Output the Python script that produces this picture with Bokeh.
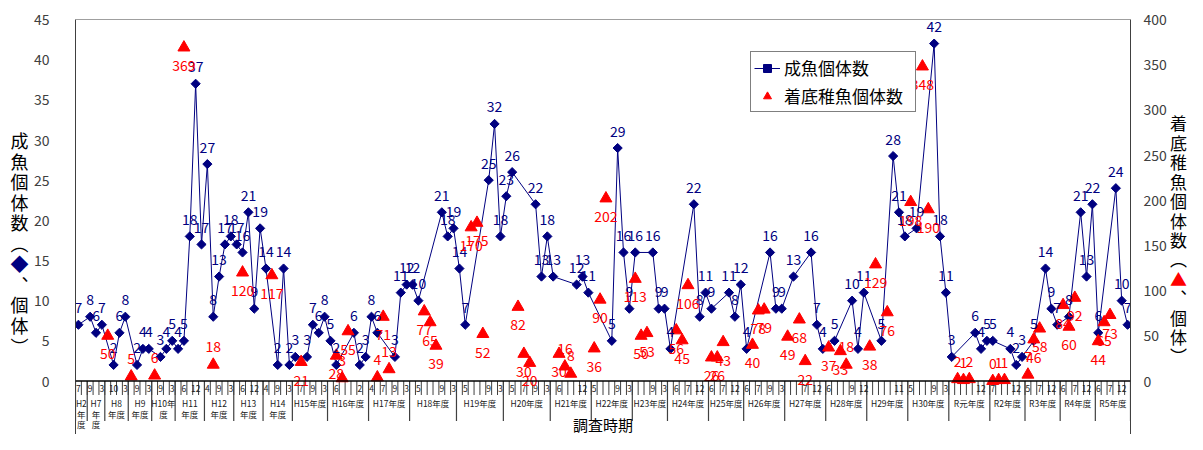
import numpy as np
from bokeh.plotting import figure
from bokeh.layouts import row
from bokeh.models import Range1d, LinearAxis, FixedTicker, Span, Legend, LegendItem
from bokeh.core.properties import value
from bokeh.embed import file_html
from bokeh.resources import INLINE

# ---------------- data ----------------
fiscal_years = ["H2\n年\n度", "H7\n年\n度", "H8\n年度", "H9\n年度", "H10年\n度", "H11\n年度",
                "H12\n年度", "H13\n年度", "H14\n年度", "H15年度", "H16年度", "H17年度",
                "H18年度", "H19年度", "H20年度", "H21年度", "H22年度", "H23年度", "H24年度",
                "H25年度", "H26年度", "H27年度", "H28年度", "H29年度", "H30年度", "R元年度",
                "R2年度", "R3年度", "R4年度", "R5年度"]

# visible month tick labels of every survey slot, per fiscal year ("" = not shown)
month_ticks = [
    ["7", ""], ["9", "", "3"], ["", "10", "", "3"], ["", "9", "", "3"], ["", "9", "", "3"],
    ["", "6", "", "12", ""], ["4", "", "9", "", "3"], ["", "6", "", "12", ""],
    ["4", "", "9", "", "3"], ["", "7", "", "9", "", "3"], ["", "6", "", "", "", "2", ""],
    ["4", "", "7", "", "9", "", "3"], ["", "5", "", "", "", "9", "", "3"],
    ["", "5", "", "", "", "9", "", "3"], ["", "5", "", "7", "", "9", "", "3"],
    ["", "6", "", "", "", "12", ""], ["5", "", "", "", "9", "", "3"],
    ["", "", "", "9", "", "3"], ["", "6", "", "7", "", "12", ""], ["6", "", "7", "", "12", ""],
    ["6", "", "7", "", "9", "", "3"], ["", "", "", "7", "", "12", ""],
    ["6", "", "", "", "9", "", "12"], ["", "", "", "", "", "11", ""],
    ["5", "", "", "", "9", "", "3"], ["", "", "", "", "", "12", ""],
    ["7", "", "", "", "12", ""], ["5", "", "7", "", "12", ""], ["6", "", "7", "", "12", ""],
    ["6", "", "7", "", "12", ""],
]

# 成魚個体数 (left axis), one entry per survey slot
adult = [7, None, 8, 6, 7, None, 2, 6, 8, None, 2, 4, 4, None, 3, 4, 5, 4, 5, 18,
         37, 17, 27, 8, 13, 17, 18, 17, 16, 21, 9, 19, 14, None, 2, 14, 2, 3, None, 3,
         7, 6, 8, 5, 2, None, None, 6, 2, 3, 8, 6, None, None, 3, 11, 12, 12, 10, None,
         None, None, 21, 18, 19, 14, 7, None, None, None, 25, 32, 18, 23, 26, None, None, None, 22, 13,
         18, 13, None, None, None, 12, 13, 11, None, None, None, 5, 29, 16, 9, 16, None, None, 16, 9,
         9, 4, None, None, None, 22, 8, 11, 9, None, None, 11, 8, 12, 4, None, None, None, 16, 9,
         9, None, 13, None, None, 16, 7, 4, None, 5, None, None, 10, 4, 11, None, None, 5, None, 28,
         21, 18, None, 19, None, None, 42, 18, 11, 3, None, None, None, 6, 4, 5, 5, None, None, 4,
         2, 3, None, 5, None, 14, 9, 7, None, 8, None, 21, 13, 22, 6, None, None, 24, 10, 7]

# 着底稚魚個体数 (right axis), one entry per survey slot
juvenile = [None, None, None, None, None, 50, None, None, None, 5, None, None, None, 6, None, None, None, None, 369, None,
            None, None, None, 18, None, None, None, None, 120, None, None, None, None, 117, None, None, None, None, 21, None,
            None, None, None, None, 28, 3, 55, None, None, None, None, 4, 71, 13, None, None, None, None, None, 77,
            65, 39, None, None, None, None, None, 170, 175, 52, None, None, None, None, None, 82, 30, 20, None, None,
            None, None, 30, 16, 8, None, None, None, 36, 90, 202, None, None, None, None, 113, 50, 53, None, None,
            None, None, 56, 45, 106, None, None, None, 26, 26, 43, None, None, None, None, 40, 78, 79, None, None,
            None, 49, None, 68, 22, None, None, None, 37, None, 33, 18, None, None, None, 38, 129, None, 76, None,
            None, None, 198, None, 348, 190, None, None, None, None, 2, 1, 2, None, None, None, 0, 1, 1, None,
            None, None, 7, 46, 58, None, None, None, 84, 60, 92, None, None, None, 44, 65, 73, None, None, None]

left_ticks = list(range(0, 46, 5))
right_ticks = list(range(0, 401, 50))
left_title = ["成", "魚", "個", "体", "数", "︵", "◆", "︑", "個", "体", "︶"]
right_title = ["着", "底", "稚", "魚", "個", "体", "数", "︵", "▲", "︑", "個", "体", "︶"]

# ---------------- layout constants ----------------
NAVY = "#000080"
RED = "#FF0000"
AXC = "#404040"
JP = "Noto Sans CJK JP"
H = 434
LW, RW = 30, 18                 # side figures holding the vertical axis titles
BL, BR, BT = 42, 33, 19          # main figure borders
N = len(adult)
MW = BL + 1064 + BR
ZERO = 380.5                     # pixel row of the value 0
Y_MAX = 45.0
ppu = (ZERO - BT) / Y_MAX
Y_MIN = -(H - ZERO) / ppu
R_MAX = 400.0
R_MIN = Y_MIN * R_MAX / Y_MAX
rppu = (ZERO - BT) / R_MAX


def px_down(px):
    return -px / ppu


p = figure(width=MW, height=H, x_range=Range1d(-0.5, N - 0.5), y_range=Range1d(Y_MIN, Y_MAX),
           x_axis_type=None, output_backend="svg", toolbar_location=None,
           min_border_left=BL, min_border_right=BR, min_border_top=BT, min_border_bottom=0)
p.extra_y_ranges = {"juv": Range1d(R_MIN, R_MAX)}
p.outline_line_color = None
p.ygrid.visible = False
p.background_fill_color = "white"
p.border_fill_color = "white"

for ax in p.yaxis:
    ax.ticker = FixedTicker(ticks=left_ticks)
    ax.axis_line_color = AXC
    ax.major_tick_line_color = None
    ax.minor_tick_line_color = None
    ax.major_label_text_font = JP
    ax.major_label_text_font_size = "14px"
    ax.major_label_text_color = AXC
    ax.major_label_standoff = 20

rax = LinearAxis(y_range_name="juv", ticker=FixedTicker(ticks=right_ticks),
                 axis_line_color=AXC, major_tick_line_color=None, minor_tick_line_color=None,
                 major_label_text_font=JP, major_label_text_font_size="14px",
                 major_label_text_color=AXC, major_label_standoff=7)
p.add_layout(rax, "right")

p.add_layout(Span(location=Y_MAX, dimension="width", line_color=AXC, line_width=1))
p.add_layout(Span(location=0, dimension="width", line_color="black", line_width=1.5))

# ---------------- category axis built from the category arrays ----------------
slot_month = [m for grp in month_ticks for m in grp]
edges = np.arange(N + 1) - 0.5
p.segment(x0=edges, y0=np.zeros(N + 1), x1=edges, y1=np.full(N + 1, px_down(14)),
          line_color=AXC, line_width=1)
counts = [len(g) for g in month_ticks]
gstart = np.concatenate([[0], np.cumsum(counts)])
gedges = gstart - 0.5
p.segment(x0=gedges, y0=np.zeros(len(gedges)), x1=gedges,
          y1=np.full(len(gedges), px_down(40)), line_color=AXC, line_width=1.2)
p.text(x=np.arange(N), y=np.full(N, px_down(7.5)), text=slot_month,
       text_font=value(JP), text_font_size="8.5px", text_color="#1a1a1a",
       text_align="center", text_baseline="middle")
gcent = (gstart[:-1] + gstart[1:] - 1) / 2.0
gx, gy, gt = [], [], []
for c, name in zip(gcent, fiscal_years):
    for k, part in enumerate(name.split("\n")):
        gx.append(c)
        gy.append(px_down(22 + 10.5 * k))
        gt.append(part)
p.text(x=gx, y=gy, text=gt, text_font=value(JP), text_font_size="8.5px",
       text_color="#202020", text_align="center", text_baseline="middle")
p.text(x=[(N - 1) / 2.0], y=[Y_MIN], text=["調査時期"], text_font=value(JP),
       text_font_size="15px", text_color="black", text_align="center", text_baseline="bottom")

# ---------------- series ----------------
ax_i = [i for i, v in enumerate(adult) if v is not None]
ax_v = [v for v in adult if v is not None]
jx_i = [i for i, v in enumerate(juvenile) if v is not None]
jx_v = [v for v in juvenile if v is not None]

line_r = p.line(ax_i, ax_v, line_color=NAVY, line_width=1)
dia_r = p.scatter(ax_i, ax_v, marker="square", size=6.5, angle=np.pi / 4,
                  fill_color=NAVY, line_color=NAVY)
tri_r = p.scatter(jx_i, jx_v, marker="triangle", size=12, fill_color=RED, line_color=RED,
                  y_range_name="juv")

p.text(x=ax_i, y=[v + 17 / ppu for v in ax_v], text=[str(v) for v in ax_v],
       text_font=value(JP), text_font_size="14px", text_color=NAVY,
       text_align="center", text_baseline="middle")
jl_y = [v + 18 / rppu if v < 20 else v - 18 / rppu for v in jx_v]
p.text(x=jx_i, y=jl_y, text=[str(v) for v in jx_v], y_range_name="juv",
       text_font=value(JP), text_font_size="14px", text_color=RED,
       text_align="center", text_baseline="middle")

# ---------------- legend ----------------
legend = Legend(items=[LegendItem(label="成魚個体数", renderers=[line_r, dia_r]),
                       LegendItem(label="着底稚魚個体数", renderers=[tri_r])],
                location=(675, 322), orientation="vertical",
                border_line_color="black", border_line_width=1,
                background_fill_color="white", background_fill_alpha=1,
                label_text_font=JP, label_text_font_size="17px", label_text_color="black",
                padding=3, spacing=3, glyph_width=26, glyph_height=20,
                label_height=20, label_width=128, label_standoff=4, margin=0)
p.add_layout(legend)


# ---------------- vertical axis titles (side figures) ----------------
def title_fig(width, chars, mark, mark_color, cx, cy, pitch, size):
    f = figure(width=width, height=H, x_range=Range1d(0, width), y_range=Range1d(H, 0),
               x_axis_type=None, y_axis_type=None, output_backend="svg",
               toolbar_location=None, min_border=0)
    f.outline_line_color = None
    f.background_fill_color = "white"
    f.border_fill_color = "white"
    n = len(chars)
    ys = [cy + (k - (n - 1) / 2.0) * pitch for k in range(n)]
    cols = [mark_color if c == mark else "black" for c in chars]
    f.text(x=[cx] * n, y=ys, text=chars, text_color=cols, text_font=value(JP),
           text_font_size=size, text_align="center", text_baseline="middle")
    return f


lf = title_fig(LW, left_title, "◆", NAVY, 19, 233.5, 21.5, "18px")
rf = title_fig(RW, right_title, "▲", RED, 9, 230, 20.3, "17px")

layout = row(lf, p, rf, spacing=0)
open("out.html", "w").write(file_html(layout, INLINE))
